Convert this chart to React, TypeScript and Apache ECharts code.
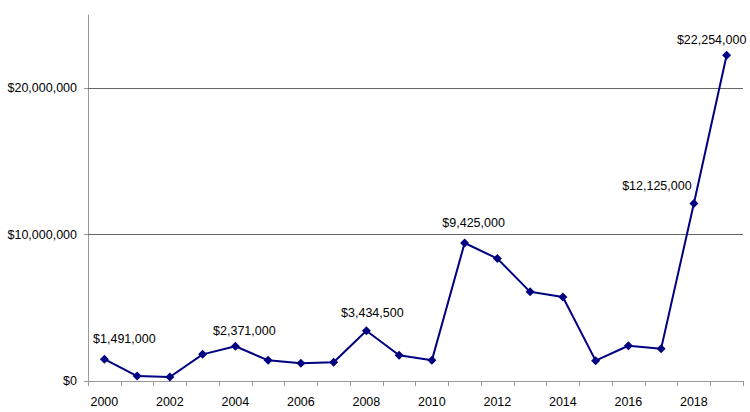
import React, { useEffect, useRef } from "react";
import * as echarts from "echarts";

const years = ["2000","2001","2002","2003","2004","2005","2006","2007","2008","2009","2010","2011","2012","2013","2014","2015","2016","2017","2018","2019"];
const values = [1491000, 340000, 270000, 1820000, 2371000, 1410000, 1210000, 1280000, 3434500, 1760000, 1410000, 9425000, 8360000, 6090000, 5740000, 1390000, 2410000, 2210000, 12125000, 22254000];
const labelYears = ["2000", "2004", "2008", "2011", "2018", "2019"];
const labelOffsets: Record<string, [number, number]> = {
  "2000": [20, -4],
  "2004": [9, 1],
  "2008": [6, -2],
  "2011": [9, -4],
  "2018": [-37, -1],
  "2019": [-15, 1],
};
const yTicks = [0, 10000000, 20000000];

const money = (v: number) => "$" + v.toLocaleString("en-US");
const FONT = "'Liberation Sans', Arial, sans-serif";

export default function App() {
  const ref = useRef<HTMLDivElement>(null);
  useEffect(() => {
    if (!ref.current) return;
    const chart = echarts.init(ref.current, undefined, { renderer: "svg" });
    const data = values.map((v, i) => {
      const y = years[i];
      if (labelYears.includes(y)) {
        return {
          value: v,
          label: {
            show: true,
            position: "top",
            distance: 5,
            offset: labelOffsets[y],
            formatter: () => money(v),
            color: "#000",
            fontSize: 12.5,
            fontFamily: FONT,
          },
        };
      }
      return { value: v };
    });
    chart.setOption({
      animation: false,
      backgroundColor: "#fff",
      grid: { left: 88, right: 7, top: 15, bottom: 31, containLabel: false },
      xAxis: {
        type: "category",
        data: years,
        boundaryGap: true,
        axisLine: { lineStyle: { color: "#999", width: 1 } },
        axisTick: { show: true, interval: 0, length: 5, lineStyle: { color: "#999" } },
        axisLabel: { interval: 1, color: "#000", fontSize: 12.5, fontFamily: FONT, margin: 14 },
        splitLine: { show: false },
      },
      yAxis: {
        type: "value",
        min: 0,
        max: 25000000,
        interval: 10000000,
        axisLine: { show: true, lineStyle: { color: "#999", width: 1 } },
        axisTick: { show: true, length: 4, lineStyle: { color: "#999" }, customValues: yTicks },
        axisLabel: {
          color: "#000",
          fontSize: 12.5,
          fontFamily: FONT,
          margin: 11,
          customValues: yTicks,
          formatter: (v: number) => money(v),
        },
        splitLine: { show: false },
      },
      series: [
        {
          type: "line",
          data,
          symbol: "diamond",
          symbolSize: 9,
          showAllSymbol: true,
          lineStyle: { color: "#000080", width: 2 },
          itemStyle: { color: "#000080" },
          z: 3,
          markLine: {
            silent: true,
            symbol: "none",
            label: { show: false },
            lineStyle: { color: "#666", width: 1, type: "solid" },
            data: yTicks.filter((t) => t > 0).map((t) => ({ yAxis: t })),
            z: 1,
          },
        },
      ],
    });
    return () => chart.dispose();
  }, []);
  return (
    <div
      ref={ref}
      style={{ position: "fixed", left: 0, top: 0, width: 750, height: 412 }}
    />
  );
}
